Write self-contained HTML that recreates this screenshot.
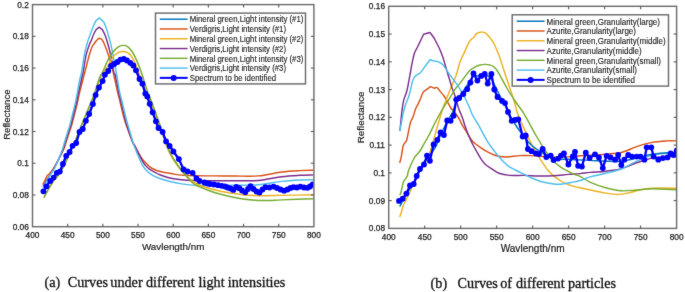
<!DOCTYPE html>
<html><head><meta charset="utf-8"><style>
html,body{margin:0;padding:0;background:#fff;}
svg{display:block;will-change:transform;}
.tk{font-family:"Liberation Sans",sans-serif;font-size:8.3px;fill:#222222;stroke:#222222;stroke-width:0.25px;}
.al{font-family:"Liberation Sans",sans-serif;font-size:9.6px;fill:#222222;stroke:#222222;stroke-width:0.2px;}
.lg{font-family:"Liberation Sans",sans-serif;font-size:7.8px;fill:#1a1a1a;stroke:#1a1a1a;stroke-width:0.12px;}
.cap{font-family:"Liberation Serif",serif;font-size:14.2px;fill:#111;stroke:#111;stroke-width:0.3px;font-variant-ligatures:none;}
</style></head><body>
<svg width="685" height="292" viewBox="0 0 685 292">
<defs><filter id="bl" color-interpolation-filters="sRGB" filterUnits="userSpaceOnUse" x="0" y="0" width="685" height="292"><feConvolveMatrix order="3" kernelMatrix="0.0150 0.0550 0.0150 0.0550 0.7200 0.0550 0.0150 0.0550 0.0150" edgeMode="duplicate" preserveAlpha="false"/></filter><clipPath id="c1"><rect x="32.5" y="4.6" width="281.2" height="222"/></clipPath><clipPath id="c2"><rect x="388.7" y="6.3" width="287.9" height="222.1"/></clipPath></defs>
<rect width="685" height="292" fill="#fff"/>
<g filter="url(#bl)">
<g clip-path="url(#c1)">
<path d="M42.70 184.70 C42.95 184.25 43.47 183.48 44.20 182.00 C44.93 180.52 46.23 177.17 47.10 175.80 C47.97 174.43 48.20 175.27 49.40 173.80 C50.60 172.33 51.97 170.97 54.30 167.00 C56.63 163.03 61.43 154.17 63.40 150.00 C65.37 145.83 65.00 145.33 66.10 142.00 C67.20 138.67 69.07 132.83 70.00 130.00 C70.93 127.17 70.52 129.33 71.70 125.00 C72.88 120.67 75.88 109.00 77.10 104.00 C78.32 99.00 77.97 99.33 79.00 95.00 C80.03 90.67 82.32 81.83 83.30 78.00 C84.28 74.17 83.90 75.83 84.90 72.00 C85.90 68.17 88.08 59.25 89.30 55.00 C90.52 50.75 91.33 48.45 92.20 46.50 C93.07 44.55 93.73 44.35 94.50 43.30 C95.27 42.25 95.98 41.05 96.80 40.20 C97.62 39.35 99.40 38.20 99.40 38.20 C99.40 38.20 101.23 38.85 102.00 39.70 C102.77 40.55 102.83 40.45 104.00 43.30 C105.17 46.15 107.63 52.68 109.00 56.80 C110.37 60.92 111.40 64.97 112.20 68.00 C113.00 71.03 112.90 71.00 113.80 75.00 C114.70 79.00 116.63 87.83 117.60 92.00 C118.57 96.17 118.58 95.83 119.60 100.00 C120.62 104.17 122.60 112.83 123.70 117.00 C124.80 121.17 124.73 120.83 126.20 125.00 C127.67 129.17 131.12 138.67 132.50 142.00 C133.88 145.33 133.00 142.33 134.50 145.00 C136.00 147.67 139.75 155.15 141.50 158.00 C143.25 160.85 143.63 160.63 145.00 162.10 C146.37 163.57 147.95 165.48 149.70 166.80 C151.45 168.12 153.55 169.18 155.50 170.00 C157.45 170.82 159.45 171.22 161.40 171.70 C163.35 172.18 164.87 172.45 167.20 172.90 C169.53 173.35 172.98 174.03 175.40 174.40 C177.82 174.77 178.70 174.87 181.70 175.10 C184.70 175.33 187.85 175.67 193.40 175.80 C198.95 175.93 208.07 175.87 215.00 175.90 C221.93 175.93 227.77 176.00 235.00 176.00 C242.23 176.00 250.62 176.57 258.40 175.90 C266.18 175.23 274.88 172.88 281.70 172.00 C288.52 171.12 294.03 170.88 299.30 170.60 C304.57 170.32 310.97 170.35 313.30 170.30" fill="none" stroke="#D95319" stroke-width="1.45" stroke-linejoin="round"/>
<path d="M43.00 186.50 C43.50 185.67 44.00 184.83 46.00 181.50 C48.00 178.17 52.20 171.75 55.00 166.50 C57.80 161.25 61.08 154.08 62.80 150.00 C64.52 145.92 64.23 145.33 65.30 142.00 C66.37 138.67 68.28 132.83 69.20 130.00 C70.12 127.17 69.63 129.33 70.80 125.00 C71.97 120.67 75.00 109.00 76.20 104.00 C77.40 99.00 77.07 99.33 78.00 95.00 C78.93 90.67 80.93 81.83 81.80 78.00 C82.67 74.17 82.48 75.83 83.20 72.00 C83.92 68.17 85.03 59.67 86.10 55.00 C87.17 50.33 88.75 46.38 89.60 44.00 C90.45 41.62 90.47 42.45 91.20 40.70 C91.93 38.95 93.15 35.38 94.00 33.50 C94.85 31.62 96.30 29.40 96.30 29.40 C96.30 29.40 99.40 27.20 99.40 27.20 C99.40 27.20 102.50 29.90 102.50 29.90 C102.50 29.90 104.23 33.22 105.00 35.10 C105.77 36.98 106.13 37.78 107.10 41.20 C108.07 44.62 109.70 50.47 110.80 55.60 C111.90 60.73 112.97 68.77 113.70 72.00 C114.43 75.23 114.38 71.67 115.20 75.00 C116.02 78.33 117.70 87.83 118.60 92.00 C119.50 96.17 119.58 95.83 120.60 100.00 C121.62 104.17 123.67 112.83 124.70 117.00 C125.73 121.17 125.47 120.83 126.80 125.00 C128.13 129.17 131.47 138.67 132.70 142.00 C133.93 145.33 132.63 141.95 134.20 145.00 C135.77 148.05 140.20 156.87 142.10 160.30 C144.00 163.73 144.33 164.08 145.60 165.60 C146.87 167.12 148.05 168.23 149.70 169.40 C151.35 170.57 153.95 171.77 155.50 172.60 C157.05 173.43 156.58 173.50 159.00 174.40 C161.42 175.30 166.22 177.10 170.00 178.00 C173.78 178.90 177.80 179.38 181.70 179.80 C185.60 180.22 187.85 180.33 193.40 180.50 C198.95 180.67 208.07 180.77 215.00 180.80 C221.93 180.83 227.77 180.75 235.00 180.70 C242.23 180.65 250.62 181.17 258.40 180.50 C266.18 179.83 274.88 177.57 281.70 176.70 C288.52 175.83 294.03 175.60 299.30 175.30 C304.57 175.00 310.97 174.97 313.30 174.90" fill="none" stroke="#7E2F8E" stroke-width="1.45" stroke-linejoin="round"/>
<path d="M43.00 187.60 C43.53 186.67 44.95 184.18 46.20 182.00 C47.45 179.82 49.00 177.00 50.50 174.50 C52.00 172.00 53.25 171.08 55.20 167.00 C57.15 162.92 60.63 154.17 62.20 150.00 C63.77 145.83 63.58 145.33 64.60 142.00 C65.62 138.67 67.42 132.83 68.30 130.00 C69.18 127.17 69.18 127.67 69.90 125.00 C70.62 122.33 71.73 117.50 72.60 114.00 C73.47 110.50 74.38 107.17 75.10 104.00 C75.82 100.83 76.07 99.33 76.90 95.00 C77.73 90.67 79.30 81.83 80.10 78.00 C80.90 74.17 81.00 75.83 81.70 72.00 C82.40 68.17 83.32 60.05 84.30 55.00 C85.28 49.95 86.72 44.83 87.60 41.70 C88.48 38.57 88.67 38.73 89.60 36.20 C90.53 33.67 92.17 29.05 93.20 26.50 C94.23 23.95 95.80 20.90 95.80 20.90 C95.80 20.90 99.40 17.90 99.40 17.90 C99.40 17.90 103.50 21.70 103.50 21.70 C103.50 21.70 105.33 25.25 106.10 27.40 C106.87 29.55 107.42 32.22 108.10 34.60 C108.78 36.98 109.28 37.80 110.20 41.70 C111.12 45.60 112.52 52.45 113.60 58.00 C114.68 63.55 115.70 69.33 116.70 75.00 C117.70 80.67 118.78 87.83 119.60 92.00 C120.42 96.17 120.58 95.83 121.60 100.00 C122.62 104.17 124.65 112.83 125.70 117.00 C126.75 121.17 126.70 120.83 127.90 125.00 C129.10 129.17 131.92 138.67 132.90 142.00 C133.88 145.33 132.65 142.03 133.80 145.00 C134.95 147.97 138.32 156.37 139.80 159.80 C141.28 163.23 141.63 163.85 142.70 165.60 C143.77 167.35 144.73 168.78 146.20 170.30 C147.67 171.82 149.47 173.42 151.50 174.70 C153.53 175.98 155.32 176.87 158.40 178.00 C161.48 179.13 166.12 180.52 170.00 181.50 C173.88 182.48 177.95 183.30 181.70 183.90 C185.45 184.50 187.78 184.82 192.50 185.10 C197.22 185.38 202.92 185.57 210.00 185.60 C217.08 185.63 226.93 185.45 235.00 185.30 C243.07 185.15 250.62 185.35 258.40 184.70 C266.18 184.05 274.88 182.18 281.70 181.40 C288.52 180.62 294.03 180.30 299.30 180.00 C304.57 179.70 310.97 179.67 313.30 179.60" fill="none" stroke="#4DBEEE" stroke-width="1.45" stroke-linejoin="round"/>
<path d="M44.30 196.50 C44.92 195.42 46.75 192.08 48.00 190.00 C49.25 187.92 50.55 185.93 51.80 184.00 C53.05 182.07 54.30 180.02 55.50 178.40 C56.70 176.78 57.43 176.73 59.00 174.30 C60.57 171.87 62.15 169.43 64.90 163.80 C67.65 158.17 72.77 146.80 75.50 140.50 C78.23 134.20 78.80 132.08 81.30 126.00 C83.80 119.92 88.72 108.33 90.50 104.00 C92.28 99.67 91.33 101.50 92.00 100.00 C92.67 98.50 93.08 98.67 94.50 95.00 C95.92 91.33 98.95 81.83 100.50 78.00 C102.05 74.17 102.48 74.13 103.80 72.00 C105.12 69.87 106.83 67.73 108.40 65.20 C109.97 62.67 111.60 58.90 113.20 56.80 C114.80 54.70 116.40 53.50 118.00 52.60 C119.60 51.70 121.20 51.40 122.80 51.40 C124.40 51.40 126.10 51.70 127.60 52.60 C129.10 53.50 130.40 54.70 131.80 56.80 C133.20 58.90 134.70 62.20 136.00 65.20 C137.30 68.20 137.63 69.83 139.60 74.80 C141.57 79.77 146.10 90.97 147.80 95.00 C149.50 99.03 147.67 93.33 149.80 99.00 C151.93 104.67 157.53 120.50 160.60 129.00 C163.67 137.50 166.13 145.00 168.20 150.00 C170.27 155.00 170.95 155.75 173.00 159.00 C175.05 162.25 177.83 166.30 180.50 169.50 C183.17 172.70 186.42 175.87 189.00 178.20 C191.58 180.53 193.47 182.03 196.00 183.50 C198.53 184.97 199.92 185.67 204.20 187.00 C208.48 188.33 216.83 190.43 221.70 191.50 C226.57 192.57 229.52 192.82 233.40 193.40 C237.28 193.98 240.83 194.60 245.00 195.00 C249.17 195.40 252.28 195.73 258.40 195.80 C264.52 195.87 272.55 195.58 281.70 195.40 C290.85 195.22 308.03 194.82 313.30 194.70" fill="none" stroke="#EDB120" stroke-width="1.45" stroke-linejoin="round"/>
<path d="M43.80 197.80 C44.42 196.63 46.25 193.07 47.50 190.80 C48.75 188.53 50.05 186.23 51.30 184.20 C52.55 182.17 53.83 180.13 55.00 178.60 C56.17 177.07 57.22 176.38 58.30 175.00 C59.38 173.62 60.42 172.13 61.50 170.30 C62.58 168.47 62.47 169.02 64.80 164.00 C67.13 158.98 72.75 146.60 75.50 140.20 C78.25 133.80 78.83 131.63 81.30 125.60 C83.77 119.57 88.57 108.27 90.30 104.00 C92.03 99.73 91.10 101.50 91.70 100.00 C92.30 98.50 92.62 98.67 93.90 95.00 C95.18 91.33 97.93 81.83 99.40 78.00 C100.87 74.17 101.40 74.73 102.70 72.00 C104.00 69.27 105.65 64.73 107.20 61.60 C108.75 58.47 110.20 55.60 112.00 53.20 C113.80 50.80 116.20 48.50 118.00 47.20 C119.80 45.90 121.20 45.50 122.80 45.40 C124.40 45.30 126.00 45.50 127.60 46.60 C129.20 47.70 130.80 49.50 132.40 52.00 C134.00 54.50 135.70 58.20 137.20 61.60 C138.70 65.00 139.50 66.83 141.40 72.40 C143.30 77.97 147.07 90.57 148.60 95.00 C150.13 99.43 148.47 93.33 150.60 99.00 C152.73 104.67 158.35 120.50 161.40 129.00 C164.45 137.50 166.85 145.00 168.90 150.00 C170.95 155.00 171.57 155.58 173.70 159.00 C175.83 162.42 178.42 166.40 181.70 170.50 C184.98 174.60 190.62 180.95 193.40 183.60 C196.18 186.25 195.63 185.17 198.40 186.40 C201.17 187.63 206.12 189.65 210.00 191.00 C213.88 192.35 217.80 193.45 221.70 194.50 C225.60 195.55 229.52 196.50 233.40 197.30 C237.28 198.10 240.83 198.77 245.00 199.30 C249.17 199.83 254.23 200.30 258.40 200.50 C262.57 200.70 266.12 200.60 270.00 200.50 C273.88 200.40 274.48 200.20 281.70 199.90 C288.92 199.60 308.03 198.90 313.30 198.70" fill="none" stroke="#77AC30" stroke-width="1.45" stroke-linejoin="round"/>
<path d="M43.40 191.30 C43.92 190.47 45.37 188.02 46.50 186.30 C47.63 184.58 49.02 182.45 50.20 181.00 C51.38 179.55 52.50 178.97 53.60 177.60 C54.70 176.23 55.77 173.80 56.80 172.80 C57.83 171.80 58.78 173.07 59.80 171.60 C60.82 170.13 61.83 166.63 62.90 164.00 C63.97 161.37 65.08 157.80 66.20 155.80 C67.32 153.80 68.53 153.67 69.60 152.00 C70.67 150.33 71.50 147.30 72.60 145.80 C73.70 144.30 75.05 145.30 76.20 143.00 C77.35 140.70 78.40 134.33 79.50 132.00 C80.60 129.67 81.73 130.87 82.80 129.00 C83.87 127.13 84.83 123.30 85.90 120.80 C86.97 118.30 88.03 116.80 89.20 114.00 C90.37 111.20 91.83 107.15 92.90 104.00 C93.97 100.85 94.58 97.85 95.60 95.10 C96.62 92.35 97.83 89.83 99.00 87.50 C100.17 85.17 101.62 83.23 102.60 81.10 C103.58 78.97 103.97 76.38 104.90 74.70 C105.83 73.02 107.18 72.45 108.20 71.00 C109.22 69.55 110.00 67.17 111.00 66.00 C112.00 64.83 113.12 64.67 114.20 64.00 C115.28 63.33 116.45 62.73 117.50 62.00 C118.55 61.27 119.45 60.10 120.50 59.60 C121.55 59.10 122.72 58.85 123.80 59.00 C124.88 59.15 125.92 59.87 127.00 60.50 C128.08 61.13 129.25 61.97 130.30 62.80 C131.35 63.63 132.35 64.25 133.30 65.50 C134.25 66.75 134.97 68.05 136.00 70.30 C137.03 72.55 138.43 76.77 139.50 79.00 C140.57 81.23 141.43 81.27 142.40 83.70 C143.37 86.13 144.48 91.47 145.30 93.60 C146.12 95.73 146.57 94.80 147.30 96.50 C148.03 98.20 148.82 101.17 149.70 103.80 C150.58 106.43 151.57 109.38 152.60 112.30 C153.63 115.22 154.92 118.68 155.90 121.30 C156.88 123.92 157.38 126.22 158.50 128.00 C159.62 129.78 161.33 129.77 162.60 132.00 C163.87 134.23 164.93 139.07 166.10 141.40 C167.27 143.73 168.38 144.32 169.60 146.00 C170.82 147.68 171.85 149.32 173.40 151.50 C174.95 153.68 177.20 156.10 178.90 159.10 C180.60 162.10 182.17 167.43 183.60 169.50 C185.03 171.57 186.00 170.95 187.50 171.50 C189.00 172.05 191.10 171.63 192.60 172.80 C194.10 173.97 195.35 177.13 196.50 178.50 C197.65 179.87 198.18 180.33 199.50 181.00 C200.82 181.67 203.07 182.08 204.40 182.50 C205.73 182.92 206.57 183.25 207.50 183.50 C208.43 183.75 208.92 183.83 210.00 184.00 C211.08 184.17 212.67 184.30 214.00 184.50 C215.33 184.70 216.72 184.98 218.00 185.20 C219.28 185.42 220.53 185.58 221.70 185.80 C222.87 186.02 224.02 186.22 225.00 186.50 C225.98 186.78 226.68 187.17 227.60 187.50 C228.52 187.83 229.53 188.10 230.50 188.50 C231.47 188.90 232.43 190.15 233.40 189.90 C234.37 189.65 235.32 187.28 236.30 187.00 C237.28 186.72 238.35 187.62 239.30 188.20 C240.25 188.78 241.00 189.82 242.00 190.50 C243.00 191.18 244.30 192.55 245.30 192.30 C246.30 192.05 247.13 190.02 248.00 189.00 C248.87 187.98 249.58 186.20 250.50 186.20 C251.42 186.20 252.50 188.12 253.50 189.00 C254.50 189.88 255.50 190.92 256.50 191.50 C257.50 192.08 258.50 192.83 259.50 192.50 C260.50 192.17 261.52 190.38 262.50 189.50 C263.48 188.62 264.23 187.53 265.40 187.20 C266.57 186.87 268.13 187.60 269.50 187.50 C270.87 187.40 272.35 186.52 273.60 186.60 C274.85 186.68 275.85 187.52 277.00 188.00 C278.15 188.48 279.32 189.05 280.50 189.50 C281.68 189.95 282.93 190.70 284.10 190.70 C285.27 190.70 286.43 189.95 287.50 189.50 C288.57 189.05 289.52 188.38 290.50 188.00 C291.48 187.62 292.32 187.28 293.40 187.20 C294.48 187.12 295.83 187.60 297.00 187.50 C298.17 187.40 299.23 186.60 300.40 186.60 C301.57 186.60 302.83 187.30 304.00 187.50 C305.17 187.70 306.40 187.97 307.40 187.80 C308.40 187.63 309.12 187.08 310.00 186.50 C310.88 185.92 312.25 184.67 312.70 184.30" fill="none" stroke="#0072BD" stroke-width="1.45"/>
<path d="M43.40 191.30 L46.50 186.30 L50.20 181.00 L53.60 177.60 L56.80 172.80 L59.80 171.60 L62.90 164.00 L66.20 155.80 L69.60 152.00 L72.60 145.80 L76.20 143.00 L79.50 132.00 L82.80 129.00 L85.90 120.80 L89.20 114.00 L92.90 104.00 L95.60 95.10 L99.00 87.50 L102.60 81.10 L104.90 74.70 L108.20 71.00 L111.00 66.00 L114.20 64.00 L117.50 62.00 L120.50 59.60 L123.80 59.00 L127.00 60.50 L130.30 62.80 L133.30 65.50 L136.00 70.30 L139.50 79.00 L142.40 83.70 L145.30 93.60 L147.30 96.50 L149.70 103.80 L152.60 112.30 L155.90 121.30 L158.50 128.00 L162.60 132.00 L166.10 141.40 L169.60 146.00 L173.40 151.50 L178.90 159.10 L183.60 169.50 L187.50 171.50 L192.60 172.80 L196.50 178.50 L199.50 181.00 L204.40 182.50 L207.50 183.50 L210.00 184.00 L214.00 184.50 L218.00 185.20 L221.70 185.80 L225.00 186.50 L227.60 187.50 L230.50 188.50 L233.40 189.90 L236.30 187.00 L239.30 188.20 L242.00 190.50 L245.30 192.30 L248.00 189.00 L250.50 186.20 L253.50 189.00 L256.50 191.50 L259.50 192.50 L262.50 189.50 L265.40 187.20 L269.50 187.50 L273.60 186.60 L277.00 188.00 L280.50 189.50 L284.10 190.70 L287.50 189.50 L290.50 188.00 L293.40 187.20 L297.00 187.50 L300.40 186.60 L304.00 187.50 L307.40 187.80 L310.00 186.50 L312.70 184.30" fill="none" stroke="#0000FF" stroke-width="2.3" stroke-linejoin="round"/>
<circle cx="43.40" cy="191.30" r="2.9" fill="#0000FF"/>
<circle cx="46.50" cy="186.30" r="2.9" fill="#0000FF"/>
<circle cx="50.20" cy="181.00" r="2.9" fill="#0000FF"/>
<circle cx="53.60" cy="177.60" r="2.9" fill="#0000FF"/>
<circle cx="56.80" cy="172.80" r="2.9" fill="#0000FF"/>
<circle cx="59.80" cy="171.60" r="2.9" fill="#0000FF"/>
<circle cx="62.90" cy="164.00" r="2.9" fill="#0000FF"/>
<circle cx="66.20" cy="155.80" r="2.9" fill="#0000FF"/>
<circle cx="69.60" cy="152.00" r="2.9" fill="#0000FF"/>
<circle cx="72.60" cy="145.80" r="2.9" fill="#0000FF"/>
<circle cx="76.20" cy="143.00" r="2.9" fill="#0000FF"/>
<circle cx="79.50" cy="132.00" r="2.9" fill="#0000FF"/>
<circle cx="82.80" cy="129.00" r="2.9" fill="#0000FF"/>
<circle cx="85.90" cy="120.80" r="2.9" fill="#0000FF"/>
<circle cx="89.20" cy="114.00" r="2.9" fill="#0000FF"/>
<circle cx="92.90" cy="104.00" r="2.9" fill="#0000FF"/>
<circle cx="95.60" cy="95.10" r="2.9" fill="#0000FF"/>
<circle cx="99.00" cy="87.50" r="2.9" fill="#0000FF"/>
<circle cx="102.60" cy="81.10" r="2.9" fill="#0000FF"/>
<circle cx="104.90" cy="74.70" r="2.9" fill="#0000FF"/>
<circle cx="108.20" cy="71.00" r="2.9" fill="#0000FF"/>
<circle cx="111.00" cy="66.00" r="2.9" fill="#0000FF"/>
<circle cx="114.20" cy="64.00" r="2.9" fill="#0000FF"/>
<circle cx="117.50" cy="62.00" r="2.9" fill="#0000FF"/>
<circle cx="120.50" cy="59.60" r="2.9" fill="#0000FF"/>
<circle cx="123.80" cy="59.00" r="2.9" fill="#0000FF"/>
<circle cx="127.00" cy="60.50" r="2.9" fill="#0000FF"/>
<circle cx="130.30" cy="62.80" r="2.9" fill="#0000FF"/>
<circle cx="133.30" cy="65.50" r="2.9" fill="#0000FF"/>
<circle cx="136.00" cy="70.30" r="2.9" fill="#0000FF"/>
<circle cx="139.50" cy="79.00" r="2.9" fill="#0000FF"/>
<circle cx="142.40" cy="83.70" r="2.9" fill="#0000FF"/>
<circle cx="145.30" cy="93.60" r="2.9" fill="#0000FF"/>
<circle cx="147.30" cy="96.50" r="2.9" fill="#0000FF"/>
<circle cx="149.70" cy="103.80" r="2.9" fill="#0000FF"/>
<circle cx="152.60" cy="112.30" r="2.9" fill="#0000FF"/>
<circle cx="155.90" cy="121.30" r="2.9" fill="#0000FF"/>
<circle cx="158.50" cy="128.00" r="2.9" fill="#0000FF"/>
<circle cx="162.60" cy="132.00" r="2.9" fill="#0000FF"/>
<circle cx="166.10" cy="141.40" r="2.9" fill="#0000FF"/>
<circle cx="169.60" cy="146.00" r="2.9" fill="#0000FF"/>
<circle cx="173.40" cy="151.50" r="2.9" fill="#0000FF"/>
<circle cx="178.90" cy="159.10" r="2.9" fill="#0000FF"/>
<circle cx="183.60" cy="169.50" r="2.9" fill="#0000FF"/>
<circle cx="187.50" cy="171.50" r="2.9" fill="#0000FF"/>
<circle cx="192.60" cy="172.80" r="2.9" fill="#0000FF"/>
<circle cx="196.50" cy="178.50" r="2.9" fill="#0000FF"/>
<circle cx="199.50" cy="181.00" r="2.9" fill="#0000FF"/>
<circle cx="204.40" cy="182.50" r="2.9" fill="#0000FF"/>
<circle cx="207.50" cy="183.50" r="2.9" fill="#0000FF"/>
<circle cx="210.00" cy="184.00" r="2.9" fill="#0000FF"/>
<circle cx="214.00" cy="184.50" r="2.9" fill="#0000FF"/>
<circle cx="218.00" cy="185.20" r="2.9" fill="#0000FF"/>
<circle cx="221.70" cy="185.80" r="2.9" fill="#0000FF"/>
<circle cx="225.00" cy="186.50" r="2.9" fill="#0000FF"/>
<circle cx="227.60" cy="187.50" r="2.9" fill="#0000FF"/>
<circle cx="230.50" cy="188.50" r="2.9" fill="#0000FF"/>
<circle cx="233.40" cy="189.90" r="2.9" fill="#0000FF"/>
<circle cx="236.30" cy="187.00" r="2.9" fill="#0000FF"/>
<circle cx="239.30" cy="188.20" r="2.9" fill="#0000FF"/>
<circle cx="242.00" cy="190.50" r="2.9" fill="#0000FF"/>
<circle cx="245.30" cy="192.30" r="2.9" fill="#0000FF"/>
<circle cx="248.00" cy="189.00" r="2.9" fill="#0000FF"/>
<circle cx="250.50" cy="186.20" r="2.9" fill="#0000FF"/>
<circle cx="253.50" cy="189.00" r="2.9" fill="#0000FF"/>
<circle cx="256.50" cy="191.50" r="2.9" fill="#0000FF"/>
<circle cx="259.50" cy="192.50" r="2.9" fill="#0000FF"/>
<circle cx="262.50" cy="189.50" r="2.9" fill="#0000FF"/>
<circle cx="265.40" cy="187.20" r="2.9" fill="#0000FF"/>
<circle cx="269.50" cy="187.50" r="2.9" fill="#0000FF"/>
<circle cx="273.60" cy="186.60" r="2.9" fill="#0000FF"/>
<circle cx="277.00" cy="188.00" r="2.9" fill="#0000FF"/>
<circle cx="280.50" cy="189.50" r="2.9" fill="#0000FF"/>
<circle cx="284.10" cy="190.70" r="2.9" fill="#0000FF"/>
<circle cx="287.50" cy="189.50" r="2.9" fill="#0000FF"/>
<circle cx="290.50" cy="188.00" r="2.9" fill="#0000FF"/>
<circle cx="293.40" cy="187.20" r="2.9" fill="#0000FF"/>
<circle cx="297.00" cy="187.50" r="2.9" fill="#0000FF"/>
<circle cx="300.40" cy="186.60" r="2.9" fill="#0000FF"/>
<circle cx="304.00" cy="187.50" r="2.9" fill="#0000FF"/>
<circle cx="307.40" cy="187.80" r="2.9" fill="#0000FF"/>
<circle cx="310.00" cy="186.50" r="2.9" fill="#0000FF"/>
<circle cx="312.70" cy="184.30" r="2.9" fill="#0000FF"/>
</g>
<rect x="32.5" y="4.6" width="281.40" height="222.10" fill="none" stroke="#6e6e6e" stroke-width="1.45"/>
<line x1="67.67" y1="226.7" x2="67.67" y2="223.7" stroke="#5a5a5a" stroke-width="1.1"/>
<line x1="67.67" y1="4.6" x2="67.67" y2="7.6" stroke="#5a5a5a" stroke-width="1.1"/>
<line x1="102.85" y1="226.7" x2="102.85" y2="223.7" stroke="#5a5a5a" stroke-width="1.1"/>
<line x1="102.85" y1="4.6" x2="102.85" y2="7.6" stroke="#5a5a5a" stroke-width="1.1"/>
<line x1="138.02" y1="226.7" x2="138.02" y2="223.7" stroke="#5a5a5a" stroke-width="1.1"/>
<line x1="138.02" y1="4.6" x2="138.02" y2="7.6" stroke="#5a5a5a" stroke-width="1.1"/>
<line x1="173.20" y1="226.7" x2="173.20" y2="223.7" stroke="#5a5a5a" stroke-width="1.1"/>
<line x1="173.20" y1="4.6" x2="173.20" y2="7.6" stroke="#5a5a5a" stroke-width="1.1"/>
<line x1="208.38" y1="226.7" x2="208.38" y2="223.7" stroke="#5a5a5a" stroke-width="1.1"/>
<line x1="208.38" y1="4.6" x2="208.38" y2="7.6" stroke="#5a5a5a" stroke-width="1.1"/>
<line x1="243.55" y1="226.7" x2="243.55" y2="223.7" stroke="#5a5a5a" stroke-width="1.1"/>
<line x1="243.55" y1="4.6" x2="243.55" y2="7.6" stroke="#5a5a5a" stroke-width="1.1"/>
<line x1="278.72" y1="226.7" x2="278.72" y2="223.7" stroke="#5a5a5a" stroke-width="1.1"/>
<line x1="278.72" y1="4.6" x2="278.72" y2="7.6" stroke="#5a5a5a" stroke-width="1.1"/>
<line x1="32.5" y1="194.97" x2="35.5" y2="194.97" stroke="#5a5a5a" stroke-width="1.1"/>
<line x1="313.9" y1="194.97" x2="310.9" y2="194.97" stroke="#5a5a5a" stroke-width="1.1"/>
<line x1="32.5" y1="163.24" x2="35.5" y2="163.24" stroke="#5a5a5a" stroke-width="1.1"/>
<line x1="313.9" y1="163.24" x2="310.9" y2="163.24" stroke="#5a5a5a" stroke-width="1.1"/>
<line x1="32.5" y1="131.51" x2="35.5" y2="131.51" stroke="#5a5a5a" stroke-width="1.1"/>
<line x1="313.9" y1="131.51" x2="310.9" y2="131.51" stroke="#5a5a5a" stroke-width="1.1"/>
<line x1="32.5" y1="99.79" x2="35.5" y2="99.79" stroke="#5a5a5a" stroke-width="1.1"/>
<line x1="313.9" y1="99.79" x2="310.9" y2="99.79" stroke="#5a5a5a" stroke-width="1.1"/>
<line x1="32.5" y1="68.06" x2="35.5" y2="68.06" stroke="#5a5a5a" stroke-width="1.1"/>
<line x1="313.9" y1="68.06" x2="310.9" y2="68.06" stroke="#5a5a5a" stroke-width="1.1"/>
<line x1="32.5" y1="36.33" x2="35.5" y2="36.33" stroke="#5a5a5a" stroke-width="1.1"/>
<line x1="313.9" y1="36.33" x2="310.9" y2="36.33" stroke="#5a5a5a" stroke-width="1.1"/>
<text x="28.80" y="229.69" text-anchor="end" class="tk">0.06</text>
<text x="28.80" y="197.96" text-anchor="end" class="tk">0.08</text>
<text x="28.80" y="166.23" text-anchor="end" class="tk">0.1</text>
<text x="28.80" y="134.50" text-anchor="end" class="tk">0.12</text>
<text x="28.80" y="102.77" text-anchor="end" class="tk">0.14</text>
<text x="28.80" y="71.05" text-anchor="end" class="tk">0.16</text>
<text x="28.80" y="39.32" text-anchor="end" class="tk">0.18</text>
<text x="28.80" y="7.59" text-anchor="end" class="tk">0.2</text>
<text x="32.50" y="238.10" text-anchor="middle" class="tk">400</text>
<text x="67.67" y="238.10" text-anchor="middle" class="tk">450</text>
<text x="102.85" y="238.10" text-anchor="middle" class="tk">500</text>
<text x="138.02" y="238.10" text-anchor="middle" class="tk">550</text>
<text x="173.20" y="238.10" text-anchor="middle" class="tk">600</text>
<text x="208.38" y="238.10" text-anchor="middle" class="tk">650</text>
<text x="243.55" y="238.10" text-anchor="middle" class="tk">700</text>
<text x="278.72" y="238.10" text-anchor="middle" class="tk">750</text>
<text x="313.90" y="238.10" text-anchor="middle" class="tk">800</text>
<text x="173.20" y="250" text-anchor="middle" class="al" style="font-size:9.9px" textLength="62.6" lengthAdjust="spacingAndGlyphs">Wavlength/nm</text>
<text transform="translate(9.8 114.65) rotate(-90)" text-anchor="middle" class="al" textLength="50.2" lengthAdjust="spacingAndGlyphs">Reflectance</text>
<rect x="155.5" y="13.1" width="150" height="70.8" fill="#fff" stroke="#6e6e6e" stroke-width="1.45"/>
<line x1="159.8" y1="19.20" x2="187.6" y2="19.20" stroke="#0072BD" stroke-width="1.45"/>
<text x="189.8" y="22.46" class="lg" style="font-size:8.4px" textLength="113.58" lengthAdjust="spacingAndGlyphs">Mineral green,Light intensity (#1)</text>
<line x1="159.8" y1="28.98" x2="187.6" y2="28.98" stroke="#D95319" stroke-width="1.45"/>
<text x="189.8" y="32.24" class="lg" style="font-size:8.4px" textLength="96.24" lengthAdjust="spacingAndGlyphs">Verdigris,Light intensity (#1)</text>
<line x1="159.8" y1="38.76" x2="187.6" y2="38.76" stroke="#EDB120" stroke-width="1.45"/>
<text x="189.8" y="42.02" class="lg" style="font-size:8.4px" textLength="113.58" lengthAdjust="spacingAndGlyphs">Mineral green,Light intensity (#2)</text>
<line x1="159.8" y1="48.54" x2="187.6" y2="48.54" stroke="#7E2F8E" stroke-width="1.45"/>
<text x="189.8" y="51.80" class="lg" style="font-size:8.4px" textLength="96.24" lengthAdjust="spacingAndGlyphs">Verdigris,Light intensity (#2)</text>
<line x1="159.8" y1="58.32" x2="187.6" y2="58.32" stroke="#77AC30" stroke-width="1.45"/>
<text x="189.8" y="61.58" class="lg" style="font-size:8.4px" textLength="113.58" lengthAdjust="spacingAndGlyphs">Mineral green,Light intensity (#3)</text>
<line x1="159.8" y1="68.10" x2="187.6" y2="68.10" stroke="#4DBEEE" stroke-width="1.45"/>
<text x="189.8" y="71.36" class="lg" style="font-size:8.4px" textLength="96.24" lengthAdjust="spacingAndGlyphs">Verdigris,Light intensity (#3)</text>
<line x1="159.8" y1="77.88" x2="187.6" y2="77.88" stroke="#0000FF" stroke-width="2.0"/>
<circle cx="173.70" cy="77.88" r="3.0" fill="#0000FF"/>
<text x="189.8" y="81.14" class="lg" style="font-size:8.4px" textLength="86.28" lengthAdjust="spacingAndGlyphs">Spectrum to be identified</text>
<g clip-path="url(#c2)">
<path d="M399.70 163.00 C399.95 162.02 400.58 160.05 401.20 157.10 C401.82 154.15 402.53 148.00 403.40 145.30 C404.27 142.60 405.67 142.62 406.40 140.90 C407.13 139.18 407.12 138.07 407.80 135.00 C408.48 131.93 409.63 125.48 410.50 122.50 C411.37 119.52 412.15 119.38 413.00 117.10 C413.85 114.82 414.87 110.77 415.60 108.80 C416.33 106.83 416.65 106.80 417.40 105.30 C418.15 103.80 419.15 101.97 420.10 99.80 C421.05 97.63 421.98 94.05 423.10 92.30 C424.22 90.55 425.55 90.23 426.80 89.30 C428.05 88.37 430.60 86.70 430.60 86.70 C430.60 86.70 434.00 88.20 434.00 88.20 C434.00 88.20 437.00 87.40 437.00 87.40 C437.00 87.40 439.33 90.28 440.40 91.60 C441.47 92.92 442.47 94.05 443.40 95.30 C444.33 96.55 444.77 96.98 446.00 99.10 C447.23 101.22 449.50 106.03 450.80 108.00 C452.10 109.97 452.82 109.73 453.80 110.90 C454.78 112.07 455.73 113.53 456.70 115.00 C457.67 116.47 458.72 118.08 459.60 119.70 C460.48 121.32 460.63 122.33 462.00 124.70 C463.37 127.07 466.12 131.22 467.80 133.90 C469.48 136.58 470.95 139.23 472.10 140.80 C473.25 142.37 473.28 142.17 474.70 143.30 C476.12 144.43 478.47 146.17 480.60 147.60 C482.73 149.03 485.10 150.62 487.50 151.90 C489.90 153.18 492.57 154.48 495.00 155.30 C497.43 156.12 499.68 156.55 502.10 156.80 C504.52 157.05 506.55 157.00 509.50 156.80 C512.45 156.60 516.13 155.80 519.80 155.60 C523.47 155.40 527.82 155.47 531.50 155.60 C535.18 155.73 538.22 156.15 541.90 156.40 C545.58 156.65 549.18 157.02 553.60 157.10 C558.02 157.18 564.83 157.05 568.40 156.90 C571.97 156.75 573.07 156.38 575.00 156.20 C576.93 156.02 577.43 155.95 580.00 155.80 C582.57 155.65 586.10 155.58 590.40 155.30 C594.70 155.02 600.65 154.57 605.80 154.10 C610.95 153.63 616.15 153.75 621.30 152.50 C626.45 151.25 631.57 148.28 636.70 146.60 C641.83 144.92 646.97 143.35 652.10 142.40 C657.23 141.45 663.38 141.15 667.50 140.90 C671.62 140.65 675.25 140.90 676.80 140.90" fill="none" stroke="#D95319" stroke-width="1.45" stroke-linejoin="round"/>
<path d="M399.70 217.00 C399.95 216.28 400.58 214.65 401.20 212.70 C401.82 210.75 402.42 207.75 403.40 205.30 C404.38 202.85 405.75 200.82 407.10 198.00 C408.45 195.18 409.30 193.02 411.50 188.40 C413.70 183.78 418.08 174.53 420.30 170.30 C422.52 166.07 423.32 165.70 424.80 163.00 C426.28 160.30 427.98 157.05 429.20 154.10 C430.42 151.15 431.12 148.48 432.10 145.30 C433.08 142.12 434.12 138.47 435.10 135.00 C436.08 131.53 436.78 128.72 438.00 124.50 C439.22 120.28 440.92 114.17 442.40 109.70 C443.88 105.23 445.55 101.20 446.90 97.70 C448.25 94.20 449.47 91.20 450.50 88.70 C451.53 86.20 452.10 85.12 453.10 82.70 C454.10 80.28 455.32 77.75 456.50 74.20 C457.68 70.65 458.90 65.00 460.20 61.40 C461.50 57.80 463.03 55.38 464.30 52.60 C465.57 49.82 466.72 46.85 467.80 44.70 C468.88 42.55 469.82 40.92 470.80 39.70 C471.78 38.48 472.73 38.42 473.70 37.40 C474.67 36.38 475.63 34.43 476.60 33.60 C477.57 32.77 478.52 32.65 479.50 32.40 C480.48 32.15 481.62 32.05 482.50 32.10 C483.38 32.15 484.03 32.32 484.80 32.70 C485.57 33.08 486.22 33.53 487.10 34.40 C487.98 35.27 489.12 36.63 490.10 37.90 C491.08 39.17 492.27 40.87 493.00 42.00 C493.73 43.13 493.42 42.25 494.50 44.70 C495.58 47.15 498.07 52.87 499.50 56.70 C500.93 60.53 502.13 64.70 503.10 67.70 C504.07 70.70 504.18 71.32 505.30 74.70 C506.42 78.08 508.32 83.58 509.80 88.00 C511.28 92.42 512.78 96.60 514.20 101.20 C515.62 105.80 516.15 109.97 518.30 115.60 C520.45 121.23 524.65 129.80 527.10 135.00 C529.55 140.20 531.03 143.12 533.00 146.80 C534.97 150.48 536.93 153.92 538.90 157.10 C540.87 160.28 543.33 163.75 544.80 165.90 C546.27 168.05 546.23 168.33 547.70 170.00 C549.17 171.67 551.38 174.07 553.60 175.90 C555.82 177.73 558.53 179.53 561.00 181.00 C563.47 182.47 565.95 183.72 568.40 184.70 C570.85 185.68 573.77 186.40 575.70 186.90 C577.63 187.40 577.55 187.18 580.00 187.70 C582.45 188.22 586.10 189.10 590.40 190.00 C594.70 190.90 601.17 192.37 605.80 193.10 C610.43 193.83 614.33 194.45 618.20 194.40 C622.07 194.35 625.40 193.53 629.00 192.80 C632.60 192.07 635.95 190.77 639.80 190.00 C643.65 189.23 645.93 188.50 652.10 188.20 C658.27 187.90 672.68 188.20 676.80 188.20" fill="none" stroke="#EDB120" stroke-width="1.45" stroke-linejoin="round"/>
<path d="M399.90 131.00 C400.02 129.87 400.25 127.62 400.60 124.20 C400.95 120.78 401.48 114.48 402.00 110.50 C402.52 106.52 402.85 103.72 403.70 100.30 C404.55 96.88 405.97 94.72 407.10 90.00 C408.23 85.28 409.65 76.55 410.50 72.00 C411.35 67.45 411.53 65.85 412.20 62.70 C412.87 59.55 413.63 55.68 414.50 53.10 C415.37 50.52 415.88 50.33 417.40 47.20 C418.92 44.07 423.60 34.30 423.60 34.30 C423.60 34.30 429.90 32.50 429.90 32.50 C429.90 32.50 432.13 35.25 433.00 36.50 C433.87 37.75 434.03 38.00 435.10 40.00 C436.17 42.00 438.12 45.65 439.40 48.50 C440.68 51.35 441.80 54.25 442.80 57.10 C443.80 59.95 444.55 62.75 445.40 65.60 C446.25 68.45 447.05 71.35 447.90 74.20 C448.75 77.05 449.77 80.28 450.50 82.70 C451.23 85.12 451.60 86.65 452.30 88.70 C453.00 90.75 453.67 91.78 454.70 95.00 C455.73 98.22 457.48 104.87 458.50 108.00 C459.52 111.13 460.03 111.85 460.80 113.80 C461.57 115.75 462.47 117.88 463.10 119.70 C463.73 121.52 463.73 122.18 464.60 124.70 C465.47 127.22 467.05 131.70 468.30 134.80 C469.55 137.90 470.75 140.60 472.10 143.30 C473.45 146.00 474.83 148.28 476.40 151.00 C477.97 153.72 479.98 157.35 481.50 159.60 C483.02 161.85 483.78 162.95 485.50 164.50 C487.22 166.05 489.53 167.43 491.80 168.90 C494.07 170.37 496.15 172.22 499.10 173.30 C502.05 174.38 505.32 175.05 509.50 175.40 C513.68 175.75 519.30 175.30 524.20 175.40 C529.10 175.50 534.00 175.95 538.90 176.00 C543.80 176.05 548.68 175.97 553.60 175.70 C558.52 175.43 564.00 174.75 568.40 174.40 C572.80 174.05 576.33 173.93 580.00 173.60 C583.67 173.27 586.10 172.80 590.40 172.40 C594.70 172.00 600.65 171.83 605.80 171.20 C610.95 170.57 616.15 170.00 621.30 168.60 C626.45 167.20 631.57 164.55 636.70 162.80 C641.83 161.05 646.97 159.13 652.10 158.10 C657.23 157.07 663.38 156.85 667.50 156.60 C671.62 156.35 675.25 156.60 676.80 156.60" fill="none" stroke="#7E2F8E" stroke-width="1.45" stroke-linejoin="round"/>
<path d="M399.70 195.00 C399.88 194.67 400.37 194.42 400.80 193.00 C401.23 191.58 401.85 188.37 402.30 186.50 C402.75 184.63 402.97 183.07 403.50 181.80 C404.03 180.53 404.87 179.87 405.50 178.90 C406.13 177.93 406.85 177.20 407.30 176.00 C407.75 174.80 407.67 173.40 408.20 171.70 C408.73 170.00 409.67 167.75 410.50 165.80 C411.33 163.85 412.48 161.45 413.20 160.00 C413.92 158.55 413.62 158.68 414.80 157.10 C415.98 155.52 418.63 152.95 420.30 150.50 C421.97 148.05 423.43 144.82 424.80 142.40 C426.17 139.98 426.55 139.73 428.50 136.00 C430.45 132.27 433.93 124.87 436.50 120.00 C439.07 115.13 441.90 110.13 443.90 106.80 C445.90 103.47 446.68 102.87 448.50 100.00 C450.32 97.13 453.03 92.20 454.80 89.60 C456.57 87.00 457.53 86.40 459.10 84.40 C460.67 82.40 462.38 79.95 464.20 77.60 C466.02 75.25 468.05 72.13 470.00 70.30 C471.95 68.47 474.35 67.43 475.90 66.60 C477.45 65.77 477.83 65.67 479.30 65.30 C480.77 64.93 482.92 64.45 484.70 64.40 C486.48 64.35 488.52 64.63 490.00 65.00 C491.48 65.37 492.27 65.47 493.60 66.60 C494.93 67.73 495.80 68.23 498.00 71.80 C500.20 75.37 503.85 82.97 506.80 88.00 C509.75 93.03 512.80 97.65 515.70 102.00 C518.60 106.35 520.77 108.43 524.20 114.10 C527.63 119.77 532.87 130.07 536.30 136.00 C539.73 141.93 542.15 145.70 544.80 149.70 C547.45 153.70 549.50 157.05 552.20 160.00 C554.90 162.95 558.45 165.57 561.00 167.40 C563.55 169.23 565.28 169.83 567.50 171.00 C569.72 172.17 572.22 173.50 574.30 174.40 C576.38 175.30 577.32 175.08 580.00 176.40 C582.68 177.72 586.10 180.42 590.40 182.30 C594.70 184.18 600.65 186.28 605.80 187.70 C610.95 189.12 616.15 190.42 621.30 190.80 C626.45 191.18 631.57 190.33 636.70 190.00 C641.83 189.67 645.42 188.85 652.10 188.80 C658.78 188.75 672.68 189.55 676.80 189.70" fill="none" stroke="#77AC30" stroke-width="1.45" stroke-linejoin="round"/>
<path d="M399.90 131.00 C400.10 129.87 400.47 127.53 401.10 124.20 C401.73 120.87 402.80 114.70 403.70 111.00 C404.60 107.30 405.68 104.33 406.50 102.00 C407.32 99.67 407.93 99.00 408.60 97.00 C409.27 95.00 409.90 92.47 410.50 90.00 C411.10 87.53 411.65 84.20 412.20 82.20 C412.75 80.20 413.18 79.10 413.80 78.00 C414.42 76.90 414.82 76.48 415.90 75.60 C416.98 74.72 418.82 74.17 420.30 72.70 C421.78 71.23 423.18 68.97 424.80 66.80 C426.42 64.63 430.00 59.70 430.00 59.70 C430.00 59.70 432.47 60.62 433.60 60.90 C434.73 61.18 435.40 60.90 436.80 61.40 C438.20 61.90 440.57 62.77 442.00 63.90 C443.43 65.03 444.27 66.63 445.40 68.20 C446.53 69.77 447.38 71.30 448.80 73.30 C450.22 75.30 452.33 78.05 453.90 80.20 C455.47 82.35 456.92 84.27 458.20 86.20 C459.48 88.13 460.50 89.92 461.60 91.80 C462.70 93.68 463.47 94.80 464.80 97.50 C466.13 100.20 468.32 105.08 469.60 108.00 C470.88 110.92 471.43 112.85 472.50 115.00 C473.57 117.15 475.03 119.28 476.00 120.90 C476.97 122.52 477.10 122.53 478.30 124.70 C479.50 126.87 481.38 130.65 483.20 133.90 C485.02 137.15 487.23 141.20 489.20 144.20 C491.17 147.20 493.35 149.75 495.00 151.90 C496.65 154.05 496.93 154.77 499.10 157.10 C501.27 159.43 505.30 163.75 508.00 165.90 C510.70 168.05 512.60 168.58 515.30 170.00 C518.00 171.42 521.50 173.07 524.20 174.40 C526.90 175.73 528.55 176.77 531.50 178.00 C534.45 179.23 538.22 180.80 541.90 181.80 C545.58 182.80 550.17 183.63 553.60 184.00 C557.03 184.37 559.55 184.25 562.50 184.00 C565.45 183.75 568.38 183.08 571.30 182.50 C574.22 181.92 576.82 181.43 580.00 180.50 C583.18 179.57 586.10 178.10 590.40 176.90 C594.70 175.70 600.65 174.62 605.80 173.30 C610.95 171.98 616.15 171.02 621.30 169.00 C626.45 166.98 631.57 163.53 636.70 161.20 C641.83 158.87 646.97 156.28 652.10 155.00 C657.23 153.72 663.38 153.75 667.50 153.50 C671.62 153.25 675.25 153.50 676.80 153.50" fill="none" stroke="#4DBEEE" stroke-width="1.45" stroke-linejoin="round"/>
<path d="M399.70 206.50 C400.25 205.50 401.88 202.58 403.00 200.50 C404.12 198.42 404.62 196.92 406.40 194.00 C408.18 191.08 411.43 187.00 413.70 183.00 C415.97 179.00 417.78 174.17 420.00 170.00 C422.22 165.83 424.48 161.67 427.00 158.00 C429.52 154.33 432.77 152.00 435.10 148.00 C437.43 144.00 439.02 138.33 441.00 134.00 C442.98 129.67 445.05 125.67 447.00 122.00 C448.95 118.33 451.03 115.67 452.70 112.00 C454.37 108.33 455.45 103.17 457.00 100.00 C458.55 96.83 460.17 95.67 462.00 93.00 C463.83 90.33 466.08 86.83 468.00 84.00 C469.92 81.17 471.83 77.33 473.50 76.00 C475.17 74.67 476.25 76.17 478.00 76.00 C479.75 75.83 481.90 74.72 484.00 75.00 C486.10 75.28 488.77 75.87 490.60 77.70 C492.43 79.53 493.28 82.68 495.00 86.00 C496.72 89.32 499.23 94.60 500.90 97.60 C502.57 100.60 503.82 101.77 505.00 104.00 C506.18 106.23 506.83 108.50 508.00 111.00 C509.17 113.50 510.78 116.75 512.00 119.00 C513.22 121.25 514.00 122.48 515.30 124.50 C516.60 126.52 518.18 128.85 519.80 131.10 C521.42 133.35 523.05 135.63 525.00 138.00 C526.95 140.37 528.68 142.85 531.50 145.30 C534.32 147.75 538.22 150.48 541.90 152.70 C545.58 154.92 549.18 157.50 553.60 158.60 C558.02 159.70 564.83 159.12 568.40 159.30 C571.97 159.48 571.33 159.52 575.00 159.70 C578.67 159.88 585.27 160.15 590.40 160.40 C595.53 160.65 600.65 161.07 605.80 161.20 C610.95 161.33 616.15 161.72 621.30 161.20 C626.45 160.68 631.57 159.25 636.70 158.10 C641.83 156.95 646.97 155.20 652.10 154.30 C657.23 153.40 663.38 153.08 667.50 152.70 C671.62 152.32 675.25 152.12 676.80 152.00" fill="none" stroke="#0072BD" stroke-width="1.45" stroke-linejoin="round"/>
<path d="M399.00 200.90 L402.70 198.70 L406.40 193.60 L410.00 185.50 L413.70 184.00 L416.70 176.00 L420.00 169.00 L424.00 164.50 L427.00 155.60 L429.90 160.80 L433.60 144.50 L437.30 139.90 L440.60 132.40 L443.90 135.00 L447.20 120.50 L450.60 120.80 L453.60 115.80 L456.20 99.60 L459.20 98.00 L463.30 94.00 L467.20 89.20 L470.40 82.50 L473.50 73.40 L477.40 80.60 L481.20 75.90 L484.70 74.00 L487.70 83.60 L491.40 74.00 L494.30 89.50 L497.50 97.00 L502.10 100.90 L505.00 103.10 L508.00 111.90 L511.70 120.80 L515.00 120.00 L518.30 119.30 L522.70 136.50 L525.70 135.50 L527.90 149.00 L531.50 151.20 L536.00 153.40 L538.90 154.10 L542.60 149.00 L546.30 157.10 L550.70 155.60 L553.60 160.00 L558.10 158.60 L561.00 155.60 L563.90 153.40 L568.40 164.50 L572.80 156.40 L575.00 152.00 L578.10 165.80 L581.90 166.60 L585.80 152.70 L589.60 158.10 L595.00 154.30 L598.90 157.40 L602.80 168.10 L606.60 155.80 L610.50 157.40 L615.10 159.70 L618.20 155.00 L621.30 165.10 L624.30 159.70 L628.20 155.00 L632.00 156.60 L636.70 156.60 L640.50 156.60 L644.40 159.70 L646.70 147.30 L651.30 147.30 L653.60 156.60 L658.30 159.70 L662.90 158.10 L667.50 157.40 L670.60 153.50 L673.70 155.00 L676.80 150.40" fill="none" stroke="#0000FF" stroke-width="2.3" stroke-linejoin="round"/>
<circle cx="399.00" cy="200.90" r="2.9" fill="#0000FF"/>
<circle cx="402.70" cy="198.70" r="2.9" fill="#0000FF"/>
<circle cx="406.40" cy="193.60" r="2.9" fill="#0000FF"/>
<circle cx="410.00" cy="185.50" r="2.9" fill="#0000FF"/>
<circle cx="413.70" cy="184.00" r="2.9" fill="#0000FF"/>
<circle cx="416.70" cy="176.00" r="2.9" fill="#0000FF"/>
<circle cx="420.00" cy="169.00" r="2.9" fill="#0000FF"/>
<circle cx="424.00" cy="164.50" r="2.9" fill="#0000FF"/>
<circle cx="427.00" cy="155.60" r="2.9" fill="#0000FF"/>
<circle cx="429.90" cy="160.80" r="2.9" fill="#0000FF"/>
<circle cx="433.60" cy="144.50" r="2.9" fill="#0000FF"/>
<circle cx="437.30" cy="139.90" r="2.9" fill="#0000FF"/>
<circle cx="440.60" cy="132.40" r="2.9" fill="#0000FF"/>
<circle cx="443.90" cy="135.00" r="2.9" fill="#0000FF"/>
<circle cx="447.20" cy="120.50" r="2.9" fill="#0000FF"/>
<circle cx="450.60" cy="120.80" r="2.9" fill="#0000FF"/>
<circle cx="453.60" cy="115.80" r="2.9" fill="#0000FF"/>
<circle cx="456.20" cy="99.60" r="2.9" fill="#0000FF"/>
<circle cx="459.20" cy="98.00" r="2.9" fill="#0000FF"/>
<circle cx="463.30" cy="94.00" r="2.9" fill="#0000FF"/>
<circle cx="467.20" cy="89.20" r="2.9" fill="#0000FF"/>
<circle cx="470.40" cy="82.50" r="2.9" fill="#0000FF"/>
<circle cx="473.50" cy="73.40" r="2.9" fill="#0000FF"/>
<circle cx="477.40" cy="80.60" r="2.9" fill="#0000FF"/>
<circle cx="481.20" cy="75.90" r="2.9" fill="#0000FF"/>
<circle cx="484.70" cy="74.00" r="2.9" fill="#0000FF"/>
<circle cx="487.70" cy="83.60" r="2.9" fill="#0000FF"/>
<circle cx="491.40" cy="74.00" r="2.9" fill="#0000FF"/>
<circle cx="494.30" cy="89.50" r="2.9" fill="#0000FF"/>
<circle cx="497.50" cy="97.00" r="2.9" fill="#0000FF"/>
<circle cx="502.10" cy="100.90" r="2.9" fill="#0000FF"/>
<circle cx="505.00" cy="103.10" r="2.9" fill="#0000FF"/>
<circle cx="508.00" cy="111.90" r="2.9" fill="#0000FF"/>
<circle cx="511.70" cy="120.80" r="2.9" fill="#0000FF"/>
<circle cx="515.00" cy="120.00" r="2.9" fill="#0000FF"/>
<circle cx="518.30" cy="119.30" r="2.9" fill="#0000FF"/>
<circle cx="522.70" cy="136.50" r="2.9" fill="#0000FF"/>
<circle cx="525.70" cy="135.50" r="2.9" fill="#0000FF"/>
<circle cx="527.90" cy="149.00" r="2.9" fill="#0000FF"/>
<circle cx="531.50" cy="151.20" r="2.9" fill="#0000FF"/>
<circle cx="536.00" cy="153.40" r="2.9" fill="#0000FF"/>
<circle cx="538.90" cy="154.10" r="2.9" fill="#0000FF"/>
<circle cx="542.60" cy="149.00" r="2.9" fill="#0000FF"/>
<circle cx="546.30" cy="157.10" r="2.9" fill="#0000FF"/>
<circle cx="550.70" cy="155.60" r="2.9" fill="#0000FF"/>
<circle cx="553.60" cy="160.00" r="2.9" fill="#0000FF"/>
<circle cx="558.10" cy="158.60" r="2.9" fill="#0000FF"/>
<circle cx="561.00" cy="155.60" r="2.9" fill="#0000FF"/>
<circle cx="563.90" cy="153.40" r="2.9" fill="#0000FF"/>
<circle cx="568.40" cy="164.50" r="2.9" fill="#0000FF"/>
<circle cx="572.80" cy="156.40" r="2.9" fill="#0000FF"/>
<circle cx="575.00" cy="152.00" r="2.9" fill="#0000FF"/>
<circle cx="578.10" cy="165.80" r="2.9" fill="#0000FF"/>
<circle cx="581.90" cy="166.60" r="2.9" fill="#0000FF"/>
<circle cx="585.80" cy="152.70" r="2.9" fill="#0000FF"/>
<circle cx="589.60" cy="158.10" r="2.9" fill="#0000FF"/>
<circle cx="595.00" cy="154.30" r="2.9" fill="#0000FF"/>
<circle cx="598.90" cy="157.40" r="2.9" fill="#0000FF"/>
<circle cx="602.80" cy="168.10" r="2.9" fill="#0000FF"/>
<circle cx="606.60" cy="155.80" r="2.9" fill="#0000FF"/>
<circle cx="610.50" cy="157.40" r="2.9" fill="#0000FF"/>
<circle cx="615.10" cy="159.70" r="2.9" fill="#0000FF"/>
<circle cx="618.20" cy="155.00" r="2.9" fill="#0000FF"/>
<circle cx="621.30" cy="165.10" r="2.9" fill="#0000FF"/>
<circle cx="624.30" cy="159.70" r="2.9" fill="#0000FF"/>
<circle cx="628.20" cy="155.00" r="2.9" fill="#0000FF"/>
<circle cx="632.00" cy="156.60" r="2.9" fill="#0000FF"/>
<circle cx="636.70" cy="156.60" r="2.9" fill="#0000FF"/>
<circle cx="640.50" cy="156.60" r="2.9" fill="#0000FF"/>
<circle cx="644.40" cy="159.70" r="2.9" fill="#0000FF"/>
<circle cx="646.70" cy="147.30" r="2.9" fill="#0000FF"/>
<circle cx="651.30" cy="147.30" r="2.9" fill="#0000FF"/>
<circle cx="653.60" cy="156.60" r="2.9" fill="#0000FF"/>
<circle cx="658.30" cy="159.70" r="2.9" fill="#0000FF"/>
<circle cx="662.90" cy="158.10" r="2.9" fill="#0000FF"/>
<circle cx="667.50" cy="157.40" r="2.9" fill="#0000FF"/>
<circle cx="670.60" cy="153.50" r="2.9" fill="#0000FF"/>
<circle cx="673.70" cy="155.00" r="2.9" fill="#0000FF"/>
<circle cx="676.80" cy="150.40" r="2.9" fill="#0000FF"/>
</g>
<rect x="388.7" y="6.3" width="287.90" height="222.10" fill="none" stroke="#6e6e6e" stroke-width="1.45"/>
<line x1="424.69" y1="228.4" x2="424.69" y2="225.4" stroke="#5a5a5a" stroke-width="1.1"/>
<line x1="424.69" y1="6.3" x2="424.69" y2="9.3" stroke="#5a5a5a" stroke-width="1.1"/>
<line x1="460.68" y1="228.4" x2="460.68" y2="225.4" stroke="#5a5a5a" stroke-width="1.1"/>
<line x1="460.68" y1="6.3" x2="460.68" y2="9.3" stroke="#5a5a5a" stroke-width="1.1"/>
<line x1="496.66" y1="228.4" x2="496.66" y2="225.4" stroke="#5a5a5a" stroke-width="1.1"/>
<line x1="496.66" y1="6.3" x2="496.66" y2="9.3" stroke="#5a5a5a" stroke-width="1.1"/>
<line x1="532.65" y1="228.4" x2="532.65" y2="225.4" stroke="#5a5a5a" stroke-width="1.1"/>
<line x1="532.65" y1="6.3" x2="532.65" y2="9.3" stroke="#5a5a5a" stroke-width="1.1"/>
<line x1="568.64" y1="228.4" x2="568.64" y2="225.4" stroke="#5a5a5a" stroke-width="1.1"/>
<line x1="568.64" y1="6.3" x2="568.64" y2="9.3" stroke="#5a5a5a" stroke-width="1.1"/>
<line x1="604.62" y1="228.4" x2="604.62" y2="225.4" stroke="#5a5a5a" stroke-width="1.1"/>
<line x1="604.62" y1="6.3" x2="604.62" y2="9.3" stroke="#5a5a5a" stroke-width="1.1"/>
<line x1="640.61" y1="228.4" x2="640.61" y2="225.4" stroke="#5a5a5a" stroke-width="1.1"/>
<line x1="640.61" y1="6.3" x2="640.61" y2="9.3" stroke="#5a5a5a" stroke-width="1.1"/>
<line x1="388.7" y1="200.64" x2="391.7" y2="200.64" stroke="#5a5a5a" stroke-width="1.1"/>
<line x1="676.6" y1="200.64" x2="673.6" y2="200.64" stroke="#5a5a5a" stroke-width="1.1"/>
<line x1="388.7" y1="172.88" x2="391.7" y2="172.88" stroke="#5a5a5a" stroke-width="1.1"/>
<line x1="676.6" y1="172.88" x2="673.6" y2="172.88" stroke="#5a5a5a" stroke-width="1.1"/>
<line x1="388.7" y1="145.11" x2="391.7" y2="145.11" stroke="#5a5a5a" stroke-width="1.1"/>
<line x1="676.6" y1="145.11" x2="673.6" y2="145.11" stroke="#5a5a5a" stroke-width="1.1"/>
<line x1="388.7" y1="117.35" x2="391.7" y2="117.35" stroke="#5a5a5a" stroke-width="1.1"/>
<line x1="676.6" y1="117.35" x2="673.6" y2="117.35" stroke="#5a5a5a" stroke-width="1.1"/>
<line x1="388.7" y1="89.59" x2="391.7" y2="89.59" stroke="#5a5a5a" stroke-width="1.1"/>
<line x1="676.6" y1="89.59" x2="673.6" y2="89.59" stroke="#5a5a5a" stroke-width="1.1"/>
<line x1="388.7" y1="61.83" x2="391.7" y2="61.83" stroke="#5a5a5a" stroke-width="1.1"/>
<line x1="676.6" y1="61.83" x2="673.6" y2="61.83" stroke="#5a5a5a" stroke-width="1.1"/>
<line x1="388.7" y1="34.06" x2="391.7" y2="34.06" stroke="#5a5a5a" stroke-width="1.1"/>
<line x1="676.6" y1="34.06" x2="673.6" y2="34.06" stroke="#5a5a5a" stroke-width="1.1"/>
<text x="385.00" y="231.39" text-anchor="end" class="tk">0.08</text>
<text x="385.00" y="203.63" text-anchor="end" class="tk">0.09</text>
<text x="385.00" y="175.86" text-anchor="end" class="tk">0.1</text>
<text x="385.00" y="148.10" text-anchor="end" class="tk">0.11</text>
<text x="385.00" y="120.34" text-anchor="end" class="tk">0.12</text>
<text x="385.00" y="92.58" text-anchor="end" class="tk">0.13</text>
<text x="385.00" y="64.81" text-anchor="end" class="tk">0.14</text>
<text x="385.00" y="37.05" text-anchor="end" class="tk">0.15</text>
<text x="385.00" y="9.29" text-anchor="end" class="tk">0.16</text>
<text x="388.70" y="239.90" text-anchor="middle" class="tk">400</text>
<text x="424.69" y="239.90" text-anchor="middle" class="tk">450</text>
<text x="460.68" y="239.90" text-anchor="middle" class="tk">500</text>
<text x="496.66" y="239.90" text-anchor="middle" class="tk">550</text>
<text x="532.65" y="239.90" text-anchor="middle" class="tk">600</text>
<text x="568.64" y="239.90" text-anchor="middle" class="tk">650</text>
<text x="604.62" y="239.90" text-anchor="middle" class="tk">700</text>
<text x="640.61" y="239.90" text-anchor="middle" class="tk">750</text>
<text x="676.60" y="239.90" text-anchor="middle" class="tk">800</text>
<text x="532.65" y="252" text-anchor="middle" class="al" style="font-size:10px" textLength="64" lengthAdjust="spacingAndGlyphs">Wavlength/nm</text>
<text transform="translate(364 117.35) rotate(-90)" text-anchor="middle" class="al" style="font-size:9.8px" textLength="51.8" lengthAdjust="spacingAndGlyphs">Reflectance</text>
<rect x="512.2" y="14.8" width="156.3" height="71.3" fill="#fff" stroke="#6e6e6e" stroke-width="1.45"/>
<line x1="516.7" y1="21.20" x2="544.6" y2="21.20" stroke="#0072BD" stroke-width="1.45"/>
<text x="546.6" y="24.53" class="lg" style="font-size:8.4px" textLength="113.37" lengthAdjust="spacingAndGlyphs">Mineral green,Granularity(large)</text>
<line x1="516.7" y1="30.98" x2="544.6" y2="30.98" stroke="#D95319" stroke-width="1.45"/>
<text x="546.6" y="34.31" class="lg" style="font-size:8.4px" textLength="89.36" lengthAdjust="spacingAndGlyphs">Azurite,Granularity(large)</text>
<line x1="516.7" y1="40.76" x2="544.6" y2="40.76" stroke="#EDB120" stroke-width="1.45"/>
<text x="546.6" y="44.09" class="lg" style="font-size:8.4px" textLength="119.15" lengthAdjust="spacingAndGlyphs">Mineral green,Granularity(middle)</text>
<line x1="516.7" y1="50.54" x2="544.6" y2="50.54" stroke="#7E2F8E" stroke-width="1.45"/>
<text x="546.6" y="53.87" class="lg" style="font-size:8.4px" textLength="95.14" lengthAdjust="spacingAndGlyphs">Azurite,Granularity(middle)</text>
<line x1="516.7" y1="60.32" x2="544.6" y2="60.32" stroke="#77AC30" stroke-width="1.45"/>
<text x="546.6" y="63.65" class="lg" style="font-size:8.4px" textLength="114.25" lengthAdjust="spacingAndGlyphs">Mineral green,Granularity(small)</text>
<line x1="516.7" y1="70.10" x2="544.6" y2="70.10" stroke="#4DBEEE" stroke-width="1.45"/>
<text x="546.6" y="73.43" class="lg" style="font-size:8.4px" textLength="90.24" lengthAdjust="spacingAndGlyphs">Azurite,Granularity(small)</text>
<line x1="516.7" y1="79.88" x2="544.6" y2="79.88" stroke="#0000FF" stroke-width="2.0"/>
<circle cx="530.65" cy="79.88" r="3.0" fill="#0000FF"/>
<text x="546.6" y="83.21" class="lg" style="font-size:8.4px" textLength="88.49" lengthAdjust="spacingAndGlyphs">Spectrum to be identified</text>
<text class="cap"><tspan x="44.5" y="287">(a)</tspan><tspan x="67.8" y="287">Curves</tspan><tspan x="110.3" y="287">under</tspan><tspan x="146.0" y="287">different</tspan><tspan x="198.6" y="287">light</tspan><tspan x="227.8" y="287">intensities</tspan></text>
<text class="cap"><tspan x="430.6" y="287.8">(b)</tspan><tspan x="457.6" y="287.8">Curves</tspan><tspan x="500.2" y="287.8">of</tspan><tspan x="516.0" y="287.8">different</tspan><tspan x="568.0" y="287.8">particles</tspan></text>
</g>
</svg>
</body></html>
